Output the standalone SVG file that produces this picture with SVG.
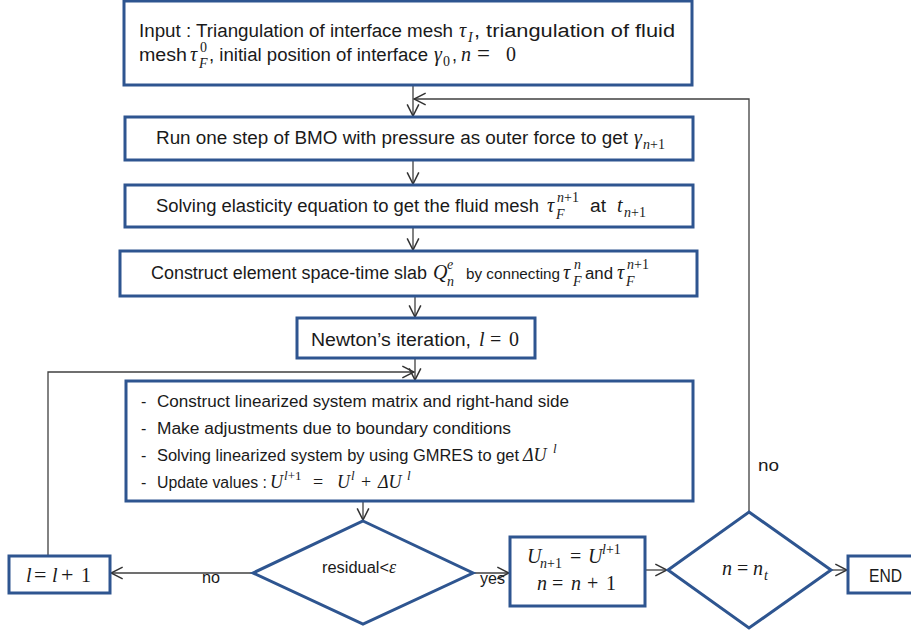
<svg xmlns="http://www.w3.org/2000/svg" width="911" height="634" viewBox="0 0 911 634">
  <defs>
    <marker id="arr" markerUnits="userSpaceOnUse" markerWidth="14" markerHeight="14" viewBox="0 0 12 12" refX="11" refY="6" orient="auto">
      <path d="M1,1 L11,6 L1,11" fill="none" stroke="#333" stroke-width="1.3"/>
    </marker>
    <style>
      .box { fill: #fff; stroke: #2E5590; stroke-width: 3; }
      .link { fill: none; stroke: #404040; stroke-width: 1.3; }
      .t { font-family: "Liberation Sans", Arial, sans-serif; font-size: 18px; fill: #1a1a1a; }
      .s { font-family: "Liberation Sans", Arial, sans-serif; font-size: 16px; fill: #1a1a1a; }
      .m { font-family: "Liberation Serif", "DejaVu Serif", serif; font-style: italic; font-size: 20px; fill: #1a1a1a; }
      .mu { font-family: "Liberation Serif", "DejaVu Serif", serif; font-size: 20px; fill: #1a1a1a; }
      .ms { font-family: "Liberation Serif", "DejaVu Serif", serif; font-style: italic; font-size: 14px; fill: #1a1a1a; }
      .msu { font-family: "Liberation Serif", "DejaVu Serif", serif; font-style: normal; font-size: 14px; fill: #1a1a1a; }
    </style>
  </defs>

  <!-- connectors -->
  <g id="connectors">
    <path class="link" d="M413,85 V116" marker-end="url(#arr)"/>
    <path class="link" d="M749,512 V99 H414" marker-end="url(#arr)"/>
    <path class="link" d="M413,160 V184" marker-end="url(#arr)"/>
    <path class="link" d="M413,227 V250" marker-end="url(#arr)"/>
    <path class="link" d="M415,296 V317" marker-end="url(#arr)"/>
    <path class="link" d="M415,358 V380" marker-end="url(#arr)"/>
    <path class="link" d="M48,556 V372 H414" marker-end="url(#arr)"/>
    <path class="link" d="M363,501 V520" marker-end="url(#arr)"/>
    <path class="link" d="M253,573 H111" marker-end="url(#arr)"/>
    <path class="link" d="M473,573 H509" marker-end="url(#arr)"/>
    <path class="link" d="M645,570 H667" marker-end="url(#arr)"/>
    <path class="link" d="M831,570 H847" marker-end="url(#arr)"/>
    <text class="s" x="202" y="583" textLength="18" lengthAdjust="spacingAndGlyphs">no</text>
    <text class="s" x="480" y="584" textLength="25" lengthAdjust="spacingAndGlyphs">yes</text>
    <text class="s" x="758" y="471" textLength="21" lengthAdjust="spacingAndGlyphs">no</text>
  </g>

  <!-- input -->
  <g id="input">
    <rect class="box" x="124" y="1" width="568" height="84"/>
    <text class="t" x="139" y="37" textLength="314" lengthAdjust="spacingAndGlyphs">Input : Triangulation of interface mesh</text>
    <text class="m" x="459" y="37">τ<tspan class="ms" x="468" y="42">I</tspan></text>
    <text class="t" x="474" y="37" textLength="201" lengthAdjust="spacingAndGlyphs">, triangulation of fluid</text>
    <text class="t" x="139" y="61" textLength="48" lengthAdjust="spacingAndGlyphs">mesh</text>
    <text class="m" x="190" y="61">τ<tspan class="msu" x="200" y="52">0</tspan><tspan class="ms" x="199" y="68">F</tspan></text>
    <text class="t" x="209" y="61" textLength="219" lengthAdjust="spacingAndGlyphs">, initial position of interface</text>
    <text class="m" x="434" y="61">γ<tspan class="msu" x="443" y="66">0</tspan></text>
    <text class="t" x="452" y="61">,</text>
    <text class="m" x="461" y="61">n</text>
    <text class="mu" x="477" y="61" style="font-size:23px">=</text>
    <text class="mu" x="506" y="61">0</text>
  </g>

  <!-- BMO step -->
  <g id="bmo">
    <rect class="box" x="125" y="117" width="568" height="43"/>
    <text class="t" x="156" y="144" textLength="472" lengthAdjust="spacingAndGlyphs">Run one step of BMO with pressure as outer force to get</text>
    <text class="m" x="634" y="144">γ<tspan class="ms" x="643" y="149">n</tspan><tspan class="msu">+1</tspan></text>
  </g>

  <!-- elasticity -->
  <g id="elasticity">
    <rect class="box" x="125" y="185" width="568" height="42"/>
    <text class="t" x="156" y="212" textLength="383" lengthAdjust="spacingAndGlyphs">Solving elasticity equation to get the fluid mesh</text>
    <text class="m" x="547" y="212">τ<tspan class="ms" x="557" y="202">n</tspan><tspan class="msu">+1</tspan><tspan class="ms" x="556" y="219">F</tspan></text>
    <text class="t" x="590" y="212" textLength="16" lengthAdjust="spacingAndGlyphs">at</text>
    <text class="m" x="617" y="212">t<tspan class="ms" x="624" y="217">n</tspan><tspan class="msu">+1</tspan></text>
  </g>

  <!-- space-time slab -->
  <g id="slab">
    <rect class="box" x="120" y="251" width="577" height="45"/>
    <text class="t" x="151" y="279" textLength="276" lengthAdjust="spacingAndGlyphs">Construct element space-time slab</text>
    <text class="m" x="433" y="279">Q<tspan class="ms" x="447" y="269">e</tspan><tspan class="ms" x="447" y="286">n</tspan></text>
    <text class="t" x="466" y="279" style="font-size:15.5px" textLength="94" lengthAdjust="spacingAndGlyphs">by connecting</text>
    <text class="m" x="563" y="279">τ<tspan class="ms" x="574" y="269">n</tspan><tspan class="ms" x="573" y="286">F</tspan></text>
    <text class="t" x="585" y="279" style="font-size:16px" textLength="28" lengthAdjust="spacingAndGlyphs">and</text>
    <text class="m" x="617" y="279">τ<tspan class="ms" x="627" y="269">n</tspan><tspan class="msu">+1</tspan><tspan class="ms" x="626" y="286">F</tspan></text>
  </g>

  <!-- Newton -->
  <g id="newton">
    <rect class="box" x="297" y="318" width="238" height="40"/>
    <text class="t" x="311" y="346" textLength="160" lengthAdjust="spacingAndGlyphs">Newton’s iteration,</text>
    <text class="m" x="479" y="346">l</text>
    <text class="mu" x="490" y="346">=</text>
    <text class="mu" x="509" y="346">0</text>
  </g>

  <!-- linear solve -->
  <g id="linear-solve">
    <rect class="box" x="126" y="381" width="567" height="120"/>
    <text class="s" x="141" y="407">-</text>
    <text class="s" x="157" y="407" textLength="412" lengthAdjust="spacingAndGlyphs">Construct linearized system matrix and right-hand side</text>
    <text class="s" x="141" y="434">-</text>
    <text class="s" x="157" y="434" textLength="354" lengthAdjust="spacingAndGlyphs">Make adjustments due to boundary conditions</text>
    <text class="s" x="141" y="461">-</text>
    <text class="s" x="157" y="461" textLength="362" lengthAdjust="spacingAndGlyphs">Solving linearized system by using GMRES to get</text>
    <text class="m" x="523" y="461" style="font-size:18px">ΔU<tspan class="ms" x="553" y="453" style="font-size:13px">l</tspan></text>
    <text class="s" x="141" y="488">-</text>
    <text class="s" x="157" y="488" textLength="110" lengthAdjust="spacingAndGlyphs">Update values :</text>
    <text class="m" x="270" y="488" style="font-size:18px">U<tspan class="ms" x="284" y="480" style="font-size:13px">l</tspan><tspan class="msu" style="font-size:13px">+1</tspan></text>
    <text class="mu" x="313" y="488" style="font-size:18px">=</text>
    <text class="m" x="337" y="488" style="font-size:18px">U<tspan class="ms" x="351" y="480" style="font-size:13px">l</tspan></text>
    <text class="mu" x="361" y="488" style="font-size:18px">+</text>
    <text class="m" x="378" y="488" style="font-size:18px">ΔU<tspan class="ms" x="407" y="480" style="font-size:13px">l</tspan></text>
  </g>

  <!-- residual check -->
  <g id="residual">
    <polygon class="box" points="363,521 473,573 363,624 253,573"/>
    <text class="s" x="322" y="573" textLength="67" lengthAdjust="spacingAndGlyphs">residual&lt;</text>
    <text class="m" x="389" y="573" style="font-size:18px">ε</text>
  </g>

  <!-- increment l -->
  <g id="increment">
    <rect class="box" x="9" y="556" width="101" height="37"/>
    <text class="m" x="26" y="582">l</text>
    <text class="mu" x="34" y="582" style="font-size:22px">=</text>
    <text class="m" x="52" y="582">l</text>
    <text class="mu" x="61" y="582" style="font-size:22px">+</text>
    <text class="mu" x="81" y="582">1</text>
  </g>

  <!-- update -->
  <g id="update">
    <rect class="box" x="510" y="537" width="135" height="69"/>
    <text class="m" x="527" y="563">U<tspan class="ms" x="540" y="568">n</tspan><tspan class="msu">+1</tspan></text>
    <text class="mu" x="570" y="563">=</text>
    <text class="m" x="588" y="563">U<tspan class="ms" x="602" y="554">l</tspan><tspan class="msu">+1</tspan></text>
    <text class="m" x="537" y="590">n</text>
    <text class="mu" x="552" y="590">=</text>
    <text class="m" x="571" y="590">n</text>
    <text class="mu" x="587" y="590">+</text>
    <text class="mu" x="606" y="590">1</text>
  </g>

  <!-- final step check -->
  <g id="final-check">
    <polygon class="box" points="749,512 831,570 749,628 668,570"/>
    <text class="m" x="722" y="575">n</text>
    <text class="mu" x="737" y="575">=</text>
    <text class="m" x="753" y="575">n<tspan class="ms" x="764" y="580">t</tspan></text>
  </g>

  <!-- end -->
  <g id="end">
    <rect class="box" x="848" y="556" width="70" height="37"/>
    <text class="t" x="869" y="582" textLength="33" lengthAdjust="spacingAndGlyphs">END</text>
  </g>
</svg>
